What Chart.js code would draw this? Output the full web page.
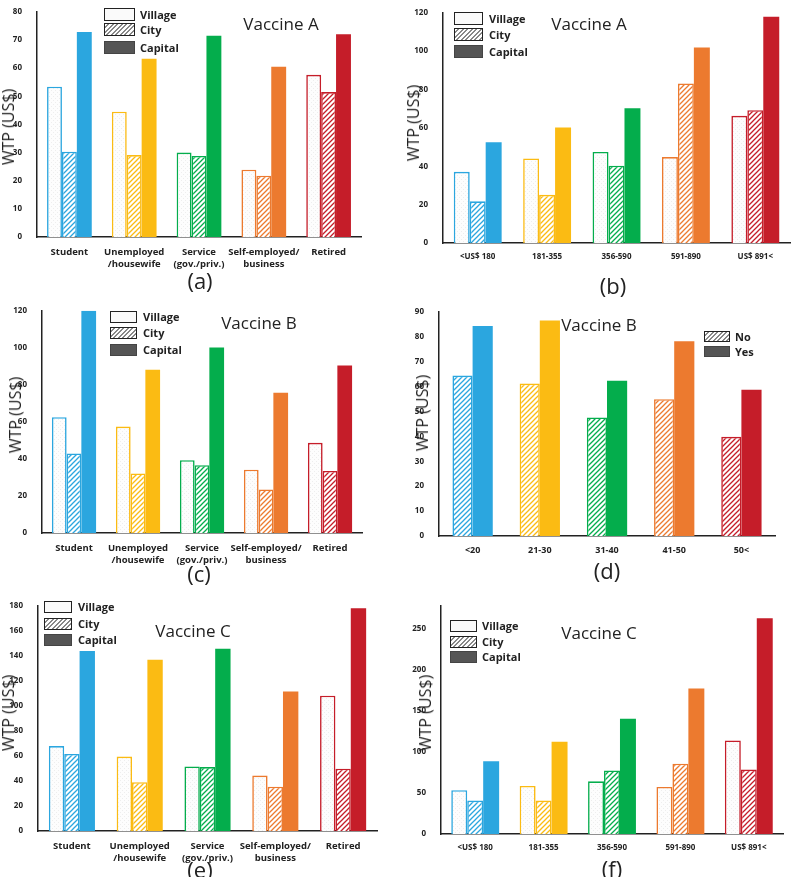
<!DOCTYPE html>
<html>
<head>
<meta charset="utf-8">
<script src="https://cdn.jsdelivr.net/npm/chart.js@4.4.1/dist/chart.umd.min.js"></script>
<style>
body { margin: 0; width: 800px; height: 877px; position: relative; background: #fff; font-family: "Open Sans", sans-serif; overflow: hidden; }
canvas { position: absolute; }
.t { position: absolute; white-space: nowrap; color: #222; transform: translate(-50%, -50%); }
.ttl { font-size: 17px; }
.lab { font-size: 22px; font-weight: 400; }
.ax { font-size: 16px; transform: translate(-50%, -50%) rotate(-90deg); }
.lg { position: absolute; font-size: 11px; font-weight: bold; color: #222; white-space: nowrap; }
.sw { position: absolute; box-sizing: border-box; border: 1.5px solid #222; }
</style>
</head>
<body>
<script>
// categories
const occupations = ['Student', ['Unemployed', '/housewife'], ['Service', '(gov./priv.)'], ['Self-employed/', 'business'], 'Retired'];
const incomes = ['<US$ 180', '181-355', '356-590', '591-890', 'US$ 891<'];
const ages = ['<20', '21-30', '31-40', '41-50', '50<'];

// (a) Vaccine A by occupation
const aVillage = [53.4, 44.5, 30.0, 23.9, 57.6];
const aCity    = [30.3, 29.1, 28.8, 21.8, 51.5];
const aCapital = [72.8, 63.3, 71.5, 60.5, 72.0];
// (b) Vaccine A by income
const bVillage = [37.1, 44.1, 47.5, 44.8, 66.3];
const bCity    = [21.7, 25.1, 40.3, 83.2, 69.2];
const bCapital = [52.5, 60.2, 70.3, 101.9, 118.0];
// (c) Vaccine B by occupation
const cVillage = [62.5, 57.5, 39.3, 34.2, 48.7];
const cCity    = [43.0, 32.2, 36.6, 23.5, 33.5];
const cCapital = [120.0, 88.1, 100.2, 75.8, 90.4];
// (d) Vaccine B by age
const dNo  = [64.4, 61.2, 47.6, 54.9, 39.8];
const dYes = [84.3, 86.5, 62.3, 78.2, 58.7];
// (e) Vaccine C by occupation
const eVillage = [67.9, 59.5, 51.6, 44.3, 108.2];
const eCity    = [61.6, 39.0, 51.1, 35.4, 49.8];
const eCapital = [143.8, 136.8, 145.7, 111.6, 178.1];
// (f) Vaccine C by income
const fVillage = [53.4, 58.6, 64.2, 57.4, 114.0];
const fCity    = [40.7, 40.7, 77.4, 85.7, 78.5];
const fCapital = [88.5, 112.4, 140.4, 177.4, 262.8];

const colors = ['#2ba6df', '#fbbb13', '#04ad4c', '#ec7a2f', '#c51d29'];

function hatch(ctx, color) {
    const c = document.createElement('canvas');
    c.width = c.height = 5;
    const g = c.getContext('2d');
    g.fillStyle = '#fff';
    g.fillRect(0, 0, 5, 5);
    g.strokeStyle = color;
    g.lineWidth = 1.3;
    g.beginPath();
    g.moveTo(0, 5); g.lineTo(5, 0);
    g.moveTo(-1, 1); g.lineTo(1, -1);
    g.moveTo(4, 6); g.lineTo(6, 4);
    g.stroke();
    return ctx.createPattern(c, 'repeat');
}

function dots(ctx) {
    const c = document.createElement('canvas');
    c.width = c.height = 4;
    const g = c.getContext('2d');
    g.fillStyle = '#fdfdfd';
    g.fillRect(0, 0, 4, 4);
    g.fillStyle = '#eeeeee';
    g.fillRect(0, 0, 1, 1);
    g.fillRect(2, 2, 1, 1);
    return ctx.createPattern(c, 'repeat');
}

function addText(cls, txt, x, y) {
    const d = document.createElement('div');
    d.className = 't ' + cls;
    d.textContent = txt;
    d.style.left = x + 'px';
    d.style.top = y + 'px';
    document.body.appendChild(d);
}

function addLegend(x, w, h, ys, tx, kinds) {
    const names = { village: 'Village', city: 'City', capital: 'Capital', no: 'No', yes: 'Yes' };
    kinds.forEach((k, i) => {
        const sw = document.createElement('div');
        sw.className = 'sw';
        sw.style.left = x + 'px';
        sw.style.top = ys[i] + 'px';
        sw.style.width = w + 'px';
        sw.style.height = h + 'px';
        if (k === 'village') sw.style.background = '#fafafa';
        if (k === 'city' || k === 'no') sw.style.background = 'repeating-linear-gradient(135deg, #fff 0 2px, #888 2px 3.2px)';
        if (k === 'capital' || k === 'yes') { sw.style.background = '#555'; sw.style.borderColor = '#444'; }
        document.body.appendChild(sw);
        const lb = document.createElement('div');
        lb.className = 'lg';
        lb.textContent = names[k];
        lb.style.left = tx + 'px';
        lb.style.top = (ys[i] + h / 2 - 8) + 'px';
        document.body.appendChild(lb);
    });
}

function panel(box, labels, series, max, step, catPct, catFont) {
    const cv = document.createElement('canvas');
    const w = box.x1 - box.x0 + 50;
    const h = box.yZero - box.yTop + 8 + 44;
    cv.width = w; cv.height = h;
    cv.style.left = (box.x0 - 40) + 'px';
    cv.style.top = (box.yTop - 8) + 'px';
    document.body.appendChild(cv);
    const ctx = cv.getContext('2d');

    const datasets = series.map(s => {
        let bg, bc, bw;
        if (s.kind === 'village') { bg = colors.map(() => dots(ctx)); bc = colors; bw = 1.6; }
        else if (s.kind === 'city') { bg = colors.map(c => hatch(ctx, c)); bc = colors; bw = 1.6; }
        else { bg = colors; bc = colors; bw = 0; }
        return { data: s.data, backgroundColor: bg, borderColor: bc, borderWidth: bw,
                 barPercentage: 1.0, categoryPercentage: catPct };
    });

    new Chart(ctx, {
        type: 'bar',
        data: { labels: labels, datasets: datasets },
        options: {
            responsive: false,
            animation: false,
            layout: { padding: { left: 0, top: 8, right: 10, bottom: 0 } },
            plugins: { legend: { display: false }, tooltip: { enabled: false } },
            scales: {
                x: {
                    grid: { display: false },
                    border: { color: '#222', width: 1.5 },
                    ticks: { color: '#222', font: { family: 'Open Sans', size: catFont, weight: 'bold', lineHeight: 1.25 },
                             maxRotation: 0, autoSkip: false, padding: 1 },
                    afterFit: s => { s.height = 44; }
                },
                y: {
                    min: 0, max: max,
                    grid: { display: false },
                    border: { color: '#222', width: 1.5 },
                    ticks: { stepSize: step, includeBounds: false, color: '#222',
                             font: { family: 'Open Sans', size: 8, weight: 'bold' }, padding: 7 },
                    afterFit: s => { s.width = 40; }
                }
            }
        }
    });
}

// (a)
panel({ x0: 37, x1: 361, yTop: 8, yZero: 237 }, occupations,
      [{ kind: 'village', data: aVillage }, { kind: 'city', data: aCity }, { kind: 'capital', data: aCapital }],
      80, 10, 0.69, 9.5);
addLegend(104, 31, 13, [8, 23, 41], 140, ['village', 'city', 'capital']);
addText('ttl', 'Vaccine A', 281, 23);
addText('ax', 'WTP (US$)', 8, 127);
addText('lab', '(a)', 200, 280);

// (b)
panel({ x0: 443, x1: 790, yTop: 9, yZero: 243 }, incomes,
      [{ kind: 'village', data: bVillage }, { kind: 'city', data: bCity }, { kind: 'capital', data: bCapital }],
      120, 20, 0.69, 8);
addLegend(454, 29, 13, [12, 28, 45], 489, ['village', 'city', 'capital']);
addText('ttl', 'Vaccine A', 589, 23);
addText('ax', 'WTP (US$)', 413, 123);
addText('lab', '(b)', 613, 285);

// (c)
panel({ x0: 42, x1: 362, yTop: 307, yZero: 533 }, occupations,
      [{ kind: 'village', data: cVillage }, { kind: 'city', data: cCity }, { kind: 'capital', data: cCapital }],
      120, 20, 0.69, 9.5);
addLegend(110, 27, 12, [311, 327, 344], 143, ['village', 'city', 'capital']);
addText('ttl', 'Vaccine B', 259, 322);
addText('ax', 'WTP (US$)', 15, 415);
addText('lab', '(c)', 199, 573);

// (d)
panel({ x0: 439, x1: 775, yTop: 308, yZero: 536 }, ages,
      [{ kind: 'city', data: dNo }, { kind: 'capital', data: dYes }],
      90, 10, 0.6, 9);
addLegend(704, 26, 11, [331, 346], 735, ['no', 'yes']);
addText('ttl', 'Vaccine B', 599, 324);
addText('ax', 'WTP (US$)', 422, 413);
addText('lab', '(d)', 607, 570);

// (e)
panel({ x0: 38, x1: 377, yTop: 602, yZero: 831 }, occupations,
      [{ kind: 'village', data: eVillage }, { kind: 'city', data: eCity }, { kind: 'capital', data: eCapital }],
      180, 20, 0.68, 9.5);
addLegend(44, 28, 12, [601, 618, 634], 78, ['village', 'city', 'capital']);
addText('ttl', 'Vaccine C', 193, 630);
addText('ax', 'WTP (US$)', 8, 713);
addText('lab', '(e)', 200, 869);

// (f)
panel({ x0: 441, x1: 783, yTop: 602, yZero: 834 }, incomes,
      [{ kind: 'village', data: fVillage }, { kind: 'city', data: fCity }, { kind: 'capital', data: fCapital }],
      278, 50, 0.7, 8);
addLegend(450, 27, 12, [620, 636, 651], 482, ['village', 'city', 'capital']);
addText('ttl', 'Vaccine C', 599, 632);
addText('ax', 'WTP (US$)', 425, 713);
addText('lab', '(f)', 612, 868);
</script>
</body>
</html>
